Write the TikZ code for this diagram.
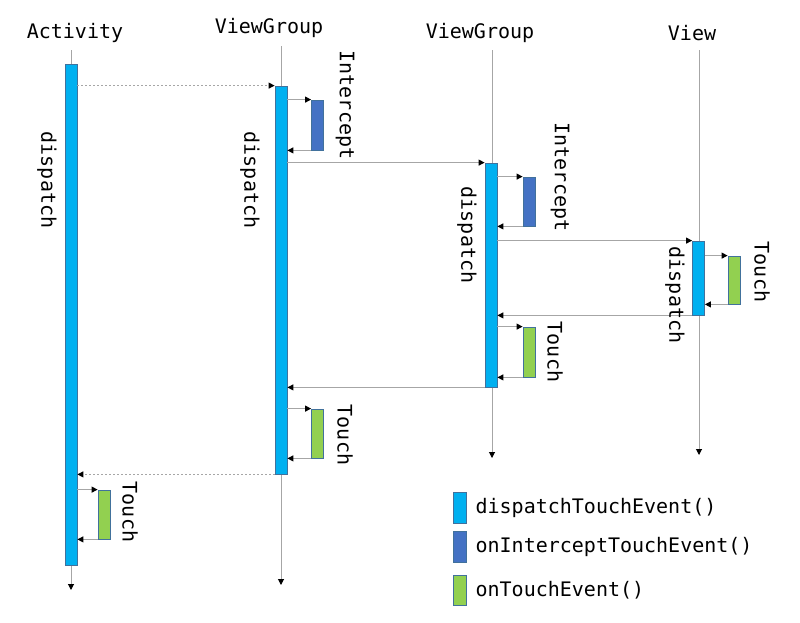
\documentclass[tikz,border=0pt]{standalone}
\usepackage{fontspec}
\setmonofont{DejaVu Sans Mono}
\usetikzlibrary{arrows.meta,positioning}

\definecolor{dispcol}{HTML}{00B0F0}
\definecolor{intcol}{HTML}{4472C4}
\definecolor{touchcol}{HTML}{92D050}
\definecolor{edgecol}{HTML}{41719C}
\definecolor{linecol}{HTML}{A6A6A6}

\begin{document}
\begin{tikzpicture}[x=1pt,y=-1pt]
\tikzset{every node/.style={font=\ttfamily\fontsize{20}{24}\selectfont,inner sep=0pt}}
\tikzset{head/.style={anchor=center}}
\tikzset{life/.style={draw=linecol,line width=1pt,-{Triangle[length=6pt,width=6pt,color=black]}}}
\tikzset{msg/.style={draw=linecol,line width=1pt,-{Triangle[length=6pt,width=6pt,color=black]}}}
\tikzset{ret/.style={msg,dashed,dash pattern=on 2pt off 2pt}}
\tikzset{bar/.style={draw=edgecol,line width=0.8pt,minimum width=12pt}}
\tikzset{dispbar/.style={bar,fill=dispcol}}
\tikzset{intbar/.style={bar,fill=intcol}}
\tikzset{touchbar/.style={bar,fill=touchcol}}
\tikzset{vlabel/.style={rotate=-90}}

\useasboundingbox (0,0) rectangle (800,622);

% lifelines
\node[head] (activity) at (75,33) {Activity};
\node[head] (vgA) at (269,28) {ViewGroup};
\node[head] (vgB) at (480,33) {ViewGroup};
\node[head] (view) at (692,33) {View};

\coordinate (actTop) at (71,50);   \coordinate (actEnd) at (71,590);
\coordinate (vgATop) at (281,46);  \coordinate (vgAEnd) at (281,585);
\coordinate (vgBTop) at (492,50);  \coordinate (vgBEnd) at (492,458);
\coordinate (viewTop) at (699,50); \coordinate (viewEnd) at (699,455);

\draw[life] (actTop) -- (actEnd);
\draw[life] (vgATop) -- (vgAEnd);
\draw[life] (vgBTop) -- (vgBEnd);
\draw[life] (viewTop) -- (viewEnd);

% activation bars
\node[dispbar,minimum height=501pt] (dAct) at (71,314.5) {};
\node[dispbar,minimum height=388pt] (dVgA) at (281,280) {};
\node[dispbar,minimum height=224pt] (dVgB) at (491,275) {};
\node[dispbar,minimum height=74pt] (dView) at (698.5,278) {};

\node[intbar,minimum height=50pt] (iVgA) at (317.5,125) {};
\node[intbar,minimum height=49pt] (iVgB) at (529,201.5) {};

\node[touchbar,minimum height=48pt] (tView) at (734,280) {};
\node[touchbar,minimum height=50pt] (tVgB) at (529,352) {};
\node[touchbar,minimum height=49pt] (tVgA) at (317.5,433.5) {};
\node[touchbar,minimum height=49pt] (tAct) at (104,514.5) {};

% calls
\draw[ret] (dAct.east |- dVgA.north) -- (dVgA.north west);
\draw[msg] (dVgA.east |- iVgA.north west) -- (iVgA.north west);
\draw[msg] (iVgA.south west) -- (dVgA.east |- iVgA.south west);
\draw[msg] (dVgA.east |- dVgB.north) -- (dVgB.north west);
\draw[msg] (dVgB.east |- iVgB.north west) -- (iVgB.north west);
\draw[msg] (iVgB.south west) -- (dVgB.east |- iVgB.south west);
\draw[msg] (dVgB.east |- dView.north) -- (dView.north west);
\draw[msg] (dView.east |- tView.north west) -- (tView.north west);
\draw[msg] (tView.south west) -- (dView.east |- tView.south west);
\draw[msg] (dView.south west) -- (dVgB.east |- dView.south west);
\draw[msg] (dVgB.east |- tVgB.north west) -- (tVgB.north west);
\draw[msg] (tVgB.south west) -- (dVgB.east |- tVgB.south west);
\draw[msg] (dVgB.south west) -- (dVgA.east |- dVgB.south west);
\draw[msg] (dVgA.east |- tVgA.north west) -- (tVgA.north west);
\draw[msg] (tVgA.south west) -- (dVgA.east |- tVgA.south west);
\draw[ret] (dVgA.south west) -- (dAct.east |- dVgA.south west);
\draw[msg] (dAct.east |- tAct.north west) -- (tAct.north west);
\draw[msg] (tAct.south west) -- (dAct.east |- tAct.south west);

% labels
\node[vlabel] (lDAct) at (47,180) {dispatch};
\node[vlabel] (lDVgA) at (250,180) {dispatch};
\node[vlabel] (lIVgA) at (345,105) {Intercept};
\node[vlabel] (lIVgB) at (560,177) {Intercept};
\node[vlabel] (lDVgB) at (467,235) {dispatch};
\node[vlabel] (lDView) at (675,295) {dispatch};
\node[vlabel] (lTView) at (762,272) {Touch};
\node[vlabel] (lTVgB) at (555,352) {Touch};
\node[vlabel] (lTVgA) at (345,435) {Touch};
\node[vlabel] (lTAct) at (130,512) {Touch};

% legend
\node[dispbar,minimum height=31pt,minimum width=13pt] (kDisp) at (459.5,507.5) {};
\node[intbar,minimum height=31pt,minimum width=13pt] (kInt) at (459.5,546.5) {};
\node[touchbar,minimum height=30pt,minimum width=13pt] (kTouch) at (459.5,590) {};
\node[right=9pt of kDisp] (tDisp) {dispatchTouchEvent()};
\node[right=9pt of kInt] (tInt) {onInterceptTouchEvent()};
\node[right=9pt of kTouch] (tTouch) {onTouchEvent()};
\end{tikzpicture}
\end{document}
